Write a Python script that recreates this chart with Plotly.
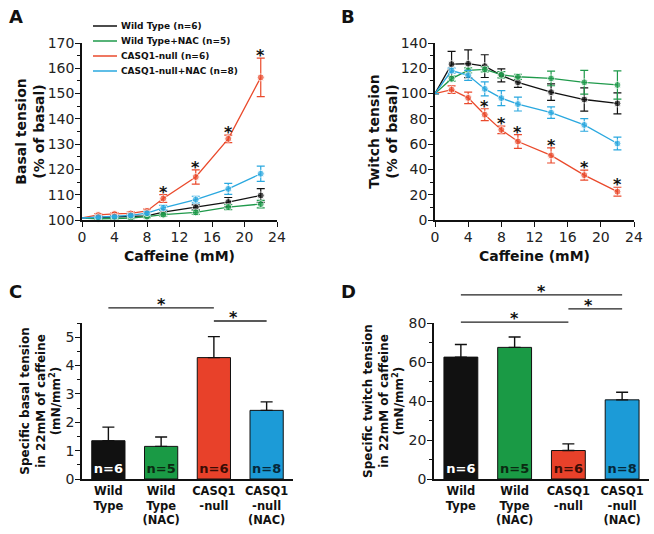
import plotly.graph_objects as go

# ---------------- data ----------------
caffeine = [0, 2, 4, 6, 8, 10, 14, 18, 22]
series_names = ["Wild Type (n=6)", "Wild Type+NAC (n=5)", "CASQ1-null (n=6)", "CASQ1-null+NAC (n=8)"]
line_colors = ["#111111", "#1f9a4b", "#ea4a2c", "#2aa8df"]

basal_wt = [100.8, 101.0, 101.2, 101.4, 101.6, 103.1, 105.0, 107.1, 109.7]
basal_wt_err = [0, 0.4, 0.4, 0.4, 0.5, 0.8, 1.0, 1.8, 2.7]
basal_wtnac = [100.8, 100.5, 100.6, 100.8, 101.3, 102.1, 103.0, 105.1, 106.3]
basal_wtnac_err = [0, 0.3, 0.3, 0.3, 0.4, 0.6, 0.8, 1.0, 1.5]
basal_ko = [100.8, 102.0, 102.4, 102.6, 103.6, 108.5, 117.0, 132.1, 156.4]
basal_ko_err = [0, 0.5, 0.5, 0.6, 0.7, 1.5, 2.8, 1.5, 7.6]
basal_konac = [100.8, 101.1, 101.3, 101.8, 102.7, 104.8, 108.1, 112.3, 118.3]
basal_konac_err = [0, 0.4, 0.4, 0.5, 0.6, 1.0, 1.3, 2.2, 3.0]
basal_sig = [10, 14, 18, 22]

twitch_wt = [100, 123.3, 123.6, 121.7, 114.4, 108.9, 101.1, 95.3, 92.2]
twitch_wt_err = [0, 10, 11, 9, 5.2, 4, 6.5, 9.2, 8.3]
twitch_wtnac = [100, 111.8, 118.3, 119.1, 114.9, 113.3, 112.0, 108.9, 106.8]
twitch_wtnac_err = [0, 2, 2, 2, 2.5, 2, 5.8, 9.4, 11.2]
twitch_ko = [100, 103.1, 96.6, 83.3, 71.3, 62.1, 51.1, 35.5, 22.4]
twitch_ko_err = [0, 3, 4.5, 4.7, 3, 5.5, 6, 4, 3.5]
twitch_konac = [100, 118.2, 114.4, 103.7, 96.4, 91.7, 84.9, 75.2, 60.5]
twitch_konac_err = [0, 2, 4, 5.5, 6, 5.5, 4.5, 5, 5]
twitch_sig = [6, 8, 10, 14, 18, 22]

groups = ["Wild<br>Type", "Wild<br>Type<br>(NAC)", "CASQ1<br>-null", "CASQ1<br>-null<br>(NAC)"]
n_labels = ["n=6", "n=5", "n=6", "n=8"]
bar_colors = ["#111111", "#1a9a45", "#e8412a", "#1c9bd7"]
n_label_colors = ["#ffffff", "#0b2a12", "#3a0c05", "#06283a"]
basal_22 = [1.35, 1.15, 4.28, 2.42]
basal_22_err = [0.48, 0.33, 0.74, 0.30]
twitch_22 = [62.5, 67.5, 14.6, 40.6]
twitch_22_err = [6.5, 5.3, 3.4, 3.9]
basal_pairs = [(0, 2), (2, 3)]
basal_pair_heights = [6.03, 5.57]
twitch_pairs = [(0, 2), (0, 3), (2, 3)]
twitch_pair_heights = [80.5, 94.4, 87.2]

# ---------------- layout helpers ----------------
W, H = 654, 534
FONT = "DejaVu Sans"


def px_x(a, b):
    return [a / W, b / W]


def px_y(top, bottom):
    return [1 - bottom / H, 1 - top / H]


fig = go.Figure()

basal_sets = [(basal_wt, basal_wt_err), (basal_wtnac, basal_wtnac_err),
              (basal_ko, basal_ko_err), (basal_konac, basal_konac_err)]
twitch_sets = [(twitch_wt, twitch_wt_err), (twitch_wtnac, twitch_wtnac_err),
               (twitch_ko, twitch_ko_err), (twitch_konac, twitch_konac_err)]

msize = [0] + [7] * (len(caffeine) - 1)
for (sets, xa, ya) in [(basal_sets, "x", "y"), (twitch_sets, "x2", "y2")]:
    for k, (vals, errs) in enumerate(sets):
        fig.add_trace(go.Scatter(
            x=caffeine, y=vals, mode="lines+markers", name=series_names[k],
            line=dict(color=line_colors[k], width=1.3),
            marker=dict(color=line_colors[k], size=msize),
            error_y=dict(type="data", array=errs, color=line_colors[k], thickness=1.2, width=4),
            xaxis=xa, yaxis=ya, showlegend=False, cliponaxis=False))

annotations = []
shapes = []

# significance stars on curves
for sig, vals, errs, xa, ya in [(basal_sig, basal_ko, basal_ko_err, "x", "y"),
                                (twitch_sig, twitch_ko, twitch_ko_err, "x2", "y2")]:
    for xv in sig:
        i = caffeine.index(xv)
        annotations.append(dict(x=xv, y=vals[i] + errs[i], xref=xa, yref=ya, text="*",
                                showarrow=False, yanchor="bottom", yshift=-9,
                                font=dict(family=FONT, size=16, color="#111", weight="bold")))

# manual legend (panel A)
for k, nm in enumerate(series_names):
    yy = 1 - (26 + 15 * k) / H
    shapes.append(dict(type="line", xref="paper", yref="paper", x0=93 / W, x1=117 / W,
                       y0=yy, y1=yy, line=dict(color=line_colors[k], width=1.5)))
    annotations.append(dict(x=119 / W, y=yy, xref="paper", yref="paper", text=nm,
                            showarrow=False, xanchor="left", yanchor="middle",
                            font=dict(family=FONT, size=9, color="#111", weight="bold")))

# bars
for vals, errs, xa, ya in [(basal_22, basal_22_err, "x3", "y3"), (twitch_22, twitch_22_err, "x4", "y4")]:
    fig.add_trace(go.Bar(
        x=groups, y=vals, xaxis=xa, yaxis=ya, showlegend=False,
        marker=dict(color=bar_colors, line=dict(color="#111", width=1)),
        error_y=dict(type="data", array=errs, arrayminus=[0] * len(vals), symmetric=False,
                     color="#111", thickness=1.4, width=6),
        text=n_labels, textposition="inside", insidetextanchor="start", constraintext="none",
        textangle=0,
        textfont=dict(family=FONT, size=13, color=n_label_colors, weight="bold")))

# significance bars
for pairs, heights, ymax, xa, ya in [(basal_pairs, basal_pair_heights, 5.5, "x3", "y3"),
                                     (twitch_pairs, twitch_pair_heights, 80, "x4", "y4")]:
    n = len(groups)
    for (i, j), h in zip(pairs, heights):
        yd = h / ymax
        shapes.append(dict(type="line", xref=xa + " domain", yref=ya + " domain",
                           x0=(i + 0.5) / n, x1=(j + 0.5) / n, y0=yd, y1=yd,
                           line=dict(color="#222", width=1.3)))
        annotations.append(dict(x=(i + j + 1) / (2 * n), y=yd, xref=xa + " domain", yref=ya + " domain",
                                text="*", showarrow=False, yanchor="bottom", yshift=-8,
                                font=dict(family=FONT, size=16, color="#111", weight="bold")))

# panel letters
for letter, lx, ly in [("A", 7, 4), ("B", 339, 4), ("C", 7, 279), ("D", 339, 279)]:
    annotations.append(dict(x=lx / W, y=1 - ly / H, xref="paper", yref="paper", text=letter,
                            showarrow=False, xanchor="left", yanchor="top",
                            font=dict(family=FONT, size=18, color="#111", weight="bold")))

tick_font = dict(family=FONT, size=14, color="#222")
title_font = dict(family=FONT, size=14, color="#111", weight="bold")
bar_title_font = dict(family=FONT, size=12, color="#111", weight="bold")
common = dict(showline=True, linecolor="#111", linewidth=1.5, showgrid=False, zeroline=False,
              ticks="outside", ticklen=5, tickwidth=1.3, tickcolor="#111", tickfont=tick_font,
              automargin=False, ticklabelstandoff=-2)
cat_common = dict(showline=True, linecolor="#111", linewidth=1.5, ticks="", showgrid=False,
                  zeroline=False, automargin=False, range=[-0.5, 3.5],
                  tickfont=dict(family=FONT, size=11.5, color="#111", weight="bold"))

fig.update_layout(
    width=W, height=H, margin=dict(l=0, r=0, t=0, b=0, autoexpand=False),
    paper_bgcolor="white", plot_bgcolor="white",
    font=dict(family=FONT),
    xaxis=dict(domain=px_x(82, 277), range=[0, 24], dtick=4, anchor="y",
               title=dict(text="Caffeine (mM)", font=title_font, standoff=8), **common),
    yaxis=dict(domain=px_y(43, 220), range=[100, 170], dtick=10, anchor="x",
               minor=dict(dtick=5, ticks="outside", ticklen=3, tickcolor="#111"),
               title=dict(text="Basal tension<br>(% of basal)", font=title_font, standoff=0), **common),
    xaxis2=dict(domain=px_x(435, 634), range=[0, 24], dtick=4, anchor="y2",
                title=dict(text="Caffeine (mM)", font=title_font, standoff=8), **common),
    yaxis2=dict(domain=px_y(43, 220), range=[0, 140], dtick=20, anchor="x2",
                minor=dict(dtick=10, ticks="outside", ticklen=3, tickcolor="#111"),
                title=dict(text="Twitch tension<br>(% of basal)", font=title_font, standoff=0), **common),
    xaxis3=dict(domain=px_x(82, 293), anchor="y3", **cat_common),
    yaxis3=dict(domain=px_y(323, 479), range=[0, 5.5], dtick=1, anchor="x3",
                minor=dict(dtick=0.5, ticks="outside", ticklen=3, tickcolor="#111"),
                title=dict(text="Specific basal tension<br>in 22mM of caffeine<br>(mN/mm<sup>2</sup>)",
                           font=bar_title_font, standoff=2), **common),
    xaxis4=dict(domain=px_x(434, 649), anchor="y4", **cat_common),
    yaxis4=dict(domain=px_y(323, 479), range=[0, 80], dtick=20, anchor="x4",
                minor=dict(dtick=10, ticks="outside", ticklen=3, tickcolor="#111"),
                title=dict(text="Specific twitch tension<br>in 22mM of caffeine<br>(mN/mm<sup>2</sup>)",
                           font=bar_title_font, standoff=2), **common),
    bargap=0.37,
    shapes=shapes, annotations=annotations,
)

fig.write_html("out.html", config={"displayModeBar": False},
               post_script="document.body.style.margin='0px';document.body.style.padding='0px';"
                           "document.documentElement.style.overflow='hidden';")
